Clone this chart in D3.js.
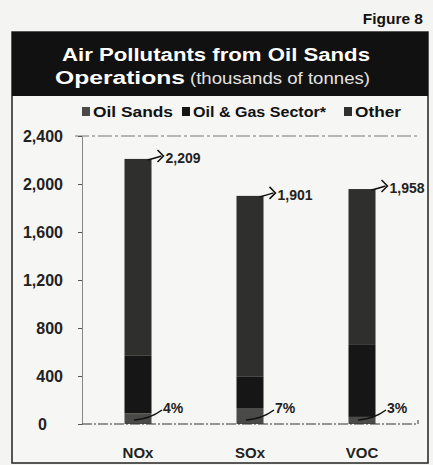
<!DOCTYPE html>
<html>
<head>
<meta charset="utf-8">
<script src="https://cdn.jsdelivr.net/npm/d3@7"></script>
<style>
  body { margin: 0; background: #f4f4f2; }
  svg { display: block; font-family: "Liberation Sans", Arial, sans-serif; }
</style>
</head>
<body>
<div id="drawing_region"></div>
<script>
// data (thousands of tonnes)
const categories = ['NOx', 'SOx', 'VOC'];
const oilSands = [88, 133, 59];
const oilGas = [480, 260, 600];
const other = [1641, 1508, 1299];
const yTicks = [0, 400, 800, 1200, 1600, 2000, 2400];
const legendLabels = ['Oil Sands', 'Oil & Gas Sector*', 'Other'];

const colors = ['#4a4a48', '#161616', '#2f2f2e'];

const width = 433, height = 465;
const margin = {top: 136, right: 15, bottom: 41, left: 82};

const svg = d3.select('#drawing_region')
    .append('svg')
    .attr('width', width)
    .attr('height', height);

// frame + title band
svg.append('rect')
    .attr('x', 12).attr('y', 32)
    .attr('width', 416).attr('height', 431)
    .attr('fill', '#f6f6f4')
    .attr('stroke', '#222').attr('stroke-width', 1.5);

svg.append('rect')
    .attr('x', 12).attr('y', 32)
    .attr('width', 416).attr('height', 64)
    .attr('fill', '#111');

svg.append('text')
    .attr('x', 423).attr('y', 24)
    .attr('text-anchor', 'end')
    .attr('font-size', 15.5).attr('font-weight', 'bold')
    .attr('fill', '#111')
    .text('Figure 8');

svg.append('text')
    .attr('x', 62).attr('y', 61)
    .attr('font-size', 18).attr('font-weight', 'bold')
    .attr('fill', '#fff')
    .attr('textLength', 308).attr('lengthAdjust', 'spacingAndGlyphs')
    .text('Air Pollutants from Oil Sands');

const t2 = svg.append('text')
    .attr('x', 55).attr('y', 84)
    .attr('font-size', 18)
    .attr('fill', '#fff');
t2.append('tspan').attr('font-weight', 'bold')
    .attr('textLength', 130).attr('lengthAdjust', 'spacingAndGlyphs')
    .text('Operations');
t2.append('tspan').attr('x', 190).attr('font-size', 17).attr('fill', '#e4e4e4')
    .attr('textLength', 180).attr('lengthAdjust', 'spacingAndGlyphs')
    .text('(thousands of tonnes)');

// legend
const legendX = [82, 182, 344];
const legendW = [80, 133, 46];
const legend = svg.selectAll('.legend')
    .data(legendLabels)
    .join('g')
    .attr('transform', (d, i) => `translate(${legendX[i]}, 117)`);
legend.append('rect')
    .attr('x', 0).attr('y', -10)
    .attr('width', 8).attr('height', 9)
    .attr('fill', (d, i) => colors[i]);
legend.append('text')
    .attr('x', 11).attr('y', 0)
    .attr('font-size', 15).attr('font-weight', 'bold')
    .attr('fill', '#111')
    .attr('textLength', (d, i) => legendW[i]).attr('lengthAdjust', 'spacingAndGlyphs')
    .text(d => d);

// scales
const inner_height = height - margin.top - margin.bottom;
const xscale = d3.scalePoint()
    .domain(categories)
    .range([margin.left, width - margin.right])
    .padding(0.5);
const yscale = d3.scaleLinear()
    .domain([0, 2400])
    .range([margin.top + inner_height, margin.top]);

const barW = 27;

// top gridline
svg.append('line')
    .attr('x1', 75).attr('x2', width - margin.right)
    .attr('y1', yscale(2400)).attr('y2', yscale(2400))
    .attr('stroke', '#777').attr('stroke-width', 1)
    .attr('stroke-dasharray', '14 3 3 3');

// y axis
const yAxis = d3.axisLeft(yscale)
    .tickValues(yTicks)
    .tickSize(4)
    .tickFormat(d3.format(','));
const yg = svg.append('g')
    .attr('transform', `translate(${margin.left}, 0)`)
    .call(yAxis);
yg.select('.domain').attr('stroke', '#888');
yg.selectAll('.tick line').attr('stroke', '#555');
yg.selectAll('.tick text')
    .attr('x', d => d === 0 ? -35 : -19)
    .attr('font-size', 16).attr('font-weight', 'bold')
    .attr('fill', '#222')
    .attr('font-family', '"Liberation Sans", Arial, sans-serif');

// stacked bars
const rows = categories.map((c, i) => ({cat: c, oilSands: oilSands[i], oilGas: oilGas[i], other: other[i]}));
const stack = d3.stack().keys(['oilSands', 'oilGas', 'other'])(rows);

svg.append('g')
    .selectAll('g')
    .data(stack)
    .join('g')
    .attr('fill', (d, i) => colors[i])
    .selectAll('rect')
    .data(d => d)
    .join('rect')
    .attr('x', d => xscale(d.data.cat) - barW / 2)
    .attr('y', d => yscale(d[1]))
    .attr('width', barW)
    .attr('height', d => yscale(d[0]) - yscale(d[1]));

// baseline
svg.append('line')
    .attr('x1', margin.left).attr('x2', width - margin.right)
    .attr('y1', yscale(0)).attr('y2', yscale(0))
    .attr('stroke', '#333').attr('stroke-width', 1.2)
    .attr('stroke-dasharray', '10 2 2 2');
svg.append('line')
    .attr('x1', width - margin.right).attr('x2', width - margin.right)
    .attr('y1', yscale(0)).attr('y2', yscale(0) - 4)
    .attr('stroke', '#333');

// x labels
svg.selectAll('.xlab')
    .data(categories)
    .join('text')
    .attr('x', d => xscale(d))
    .attr('y', 458)
    .attr('text-anchor', 'middle')
    .attr('font-size', 15).attr('font-weight', 'bold')
    .attr('fill', '#222')
    .text(d => d);

// total callouts
const totals = rows.map(r => r.oilSands + r.oilGas + r.other);
const fmt = d3.format(',');
rows.forEach((r, i) => {
    const x0 = xscale(r.cat) + barW / 2 - 4;
    const y0 = yscale(totals[i]);
    const g = svg.append('g');
    g.append('path')
        .attr('d', `M${x0},${y0 + 1} Q${x0 + 8},${y0 - 1} ${x0 + 14},${y0 - 3}`)
        .attr('fill', 'none').attr('stroke', '#111').attr('stroke-width', 1.5);
    g.append('path')
        .attr('d', `M${x0 + 10},${y0 - 9} L${x0 + 16},${y0 - 3} L${x0 + 10},${y0 + 3}`)
        .attr('fill', 'none').attr('stroke', '#111').attr('stroke-width', 1.5);
    g.append('text')
        .attr('x', x0 + 18).attr('y', y0 + 4)
        .attr('font-size', 14).attr('font-weight', 'bold')
        .attr('fill', '#222')
        .text(fmt(totals[i]));

    // oil sands share
    const pct = Math.round(r.oilSands / totals[i] * 100);
    const px = xscale(r.cat) - 4;
    const py = yscale(0) - 4;
    g.append('path')
        .attr('d', `M${px},${py} Q${px + 16},${py - 1} ${px + 28},${py - 10}`)
        .attr('fill', 'none').attr('stroke', '#111').attr('stroke-width', 1.5);
    g.append('text')
        .attr('x', px + 29).attr('y', py - 7)
        .attr('font-size', 14).attr('font-weight', 'bold')
        .attr('fill', '#222')
        .text(pct + '%');
});
</script>
</body>
</html>
